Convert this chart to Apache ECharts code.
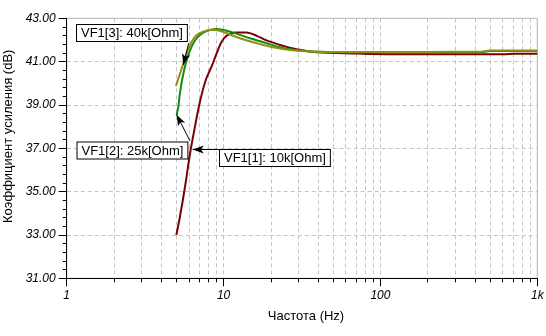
<!DOCTYPE html>
<html>
<head>
<meta charset="utf-8">
<script src="https://cdn.jsdelivr.net/npm/echarts@6/dist/echarts.min.js"></script>
<style>html,body{margin:0;padding:0;background:#fff}#c{width:546px;height:336px}</style>
</head>
<body>
<div id="c"></div>
<script>
// Frequency (Hz) / gain (dB) samples
const redFreq = [5, 5.27, 5.68, 6.11, 6.57, 7.07, 7.7, 8.42, 9.03, 9.72, 10.48, 11.84, 14.0, 16.3, 18.8, 22.9, 25.2, 29.2, 35.5, 47.7, 70, 88, 150, 300, 620, 700, 1000];
const redGain = [33.0, 33.84, 35.23, 36.75, 38.0, 39.15, 40.15, 40.8, 41.38, 41.92, 42.2, 42.34, 42.34, 42.19, 41.98, 41.77, 41.68, 41.57, 41.46, 41.41, 41.38, 41.35, 41.34, 41.34, 41.34, 41.36, 41.36];

const greenFreq = [5.02, 5.15, 5.27, 5.49, 5.82, 6.26, 6.74, 7.42, 8.19, 9.03, 11.5, 14.7, 18.8, 24.0, 33.8, 55, 100, 200, 430, 500, 1000];
const greenGain = [38.54, 38.92, 39.54, 40.3, 41.08, 41.69, 42.08, 42.34, 42.46, 42.51, 42.34, 42.08, 41.85, 41.62, 41.49, 41.43, 41.42, 41.42, 41.43, 41.49, 41.49];

const oliveFreq = [4.97, 5.41, 5.82, 6.26, 6.74, 7.42, 8.19, 8.8, 10.48, 12.7, 16.3, 20.7, 26.5, 37.3, 55.2, 100, 200, 430, 500, 1000];
const oliveGain = [39.88, 40.69, 41.38, 41.92, 42.23, 42.38, 42.46, 42.46, 42.31, 42.08, 41.85, 41.66, 41.54, 41.46, 41.44, 41.45, 41.45, 41.46, 41.51, 41.51];

const yTicks = [31, 33, 35, 37, 39, 41, 43];
const xTickLabels = {1: '1', 10: '10', 100: '100', 1000: '1k'};
const names = ['VF1[1]: 10k[Ohm]', 'VF1[2]: 25k[Ohm]', 'VF1[3]: 40k[Ohm]'];

const zip = (a, b) => a.map((v, i) => [v, b[i]]);
const FONT = 'Liberation Sans, Arial, sans-serif';
const grid = {left: 66.7, right: 8.7, top: 18.3, bottom: 57.7};

const chart = echarts.init(document.getElementById('c'), null, {renderer: 'canvas'});
const arrowLine = (from, to) => ({
  silent: true, symbol: ['none', 'arrow'], symbolSize: 10, z: 20,
  lineStyle: {color: '#000', width: 1, type: 'solid', opacity: 1},
  label: {show: false}, emphasis: {disabled: true},
  data: [[{coord: from, symbol: 'none'}, {coord: to, symbol: 'arrow', symbolSize: [6, 11]}]]
});

chart.setOption({
  animation: false,
  backgroundColor: '#fff',
  grid: Object.assign({show: true, borderColor: '#b4b4b4', borderWidth: 1, backgroundColor: 'transparent',
    containLabel: false, outerBoundsMode: 'none'}, grid),
  xAxis: {
    type: 'log', logBase: 10, min: 1, max: 1000,
    name: 'Частота (Hz)', nameLocation: 'middle', nameGap: 32,
    nameTextStyle: {fontFamily: FONT, fontSize: 13, color: '#000', padding: [0, 0, 0, 8]},
    axisLine: {show: true, lineStyle: {color: '#000', width: 1}},
    axisTick: {show: true, length: 8, lineStyle: {color: '#000'}},
    minorTick: {show: true, splitNumber: 9, length: 4, lineStyle: {color: '#000'}},
    axisLabel: {fontFamily: FONT, fontSize: 12, fontStyle: 'italic', color: '#000', margin: 11,
      formatter: v => xTickLabels[Math.round(v)] || ''},
    splitLine: {show: true, lineStyle: {color: '#c4c4c4', type: [4, 3], width: 1}},
    minorSplitLine: {show: true, lineStyle: {color: '#c4c4c4', type: [4, 3], width: 1}}
  },
  yAxis: {
    type: 'value', min: yTicks[0], max: yTicks[yTicks.length - 1], interval: 2,
    name: 'Коэффициент усиления (dB)', nameLocation: 'middle', nameGap: 52,
    nameTextStyle: {fontFamily: FONT, fontSize: 13, color: '#000', padding: [0, 0, 0, 24]},
    axisLine: {show: true, lineStyle: {color: '#000', width: 1}},
    axisTick: {show: true, length: 8, lineStyle: {color: '#000'}},
    minorTick: {show: true, splitNumber: 5, length: 4, lineStyle: {color: '#000'}},
    axisLabel: {fontFamily: FONT, fontSize: 12, fontStyle: 'italic', color: '#000', margin: 11,
      formatter: v => v.toFixed(2)},
    splitLine: {show: true, lineStyle: {color: '#c4c4c4', type: [4, 3], width: 1}}
  },
  series: [
    {name: names[0], type: 'line', data: zip(redFreq, redGain), showSymbol: false, smooth: 0.3,
      lineStyle: {color: '#7a0000', width: 2}, itemStyle: {color: '#7a0000'},
      markLine: arrowLine([9.35, 36.95], [6.36, 36.95])},
    {name: names[1], type: 'line', data: zip(greenFreq, greenGain), showSymbol: false, smooth: 0.3,
      lineStyle: {color: '#138a13', width: 2}, itemStyle: {color: '#138a13'},
      markLine: arrowLine([6.1, 37.35], [5.02, 38.55])},
    {name: names[2], type: 'line', data: zip(oliveFreq, oliveGain), showSymbol: false, smooth: 0.3,
      lineStyle: {color: '#8f8f10', width: 2}, itemStyle: {color: '#8f8f10'},
      markLine: arrowLine([5.99, 41.85], [5.54, 40.85])}
  ],
  graphic: [
    {type: 'text', left: 76, top: 24, z: 100, style: {text: names[2], font: '13px ' + FONT, fill: '#000',
      backgroundColor: '#fff', borderColor: '#000', borderWidth: 1, padding: [2, 4, 1, 4]}},
    {type: 'text', left: 76.5, top: 141.5, z: 100, style: {text: names[1], font: '13px ' + FONT, fill: '#000',
      backgroundColor: '#fff', borderColor: '#000', borderWidth: 1, padding: [2, 4, 1, 4]}},
    {type: 'text', left: 219, top: 149, z: 100, style: {text: names[0], font: '13px ' + FONT, fill: '#000',
      backgroundColor: '#fff', borderColor: '#000', borderWidth: 1, padding: [2, 4, 1, 4]}}
  ]
});
</script>
</body>
</html>
